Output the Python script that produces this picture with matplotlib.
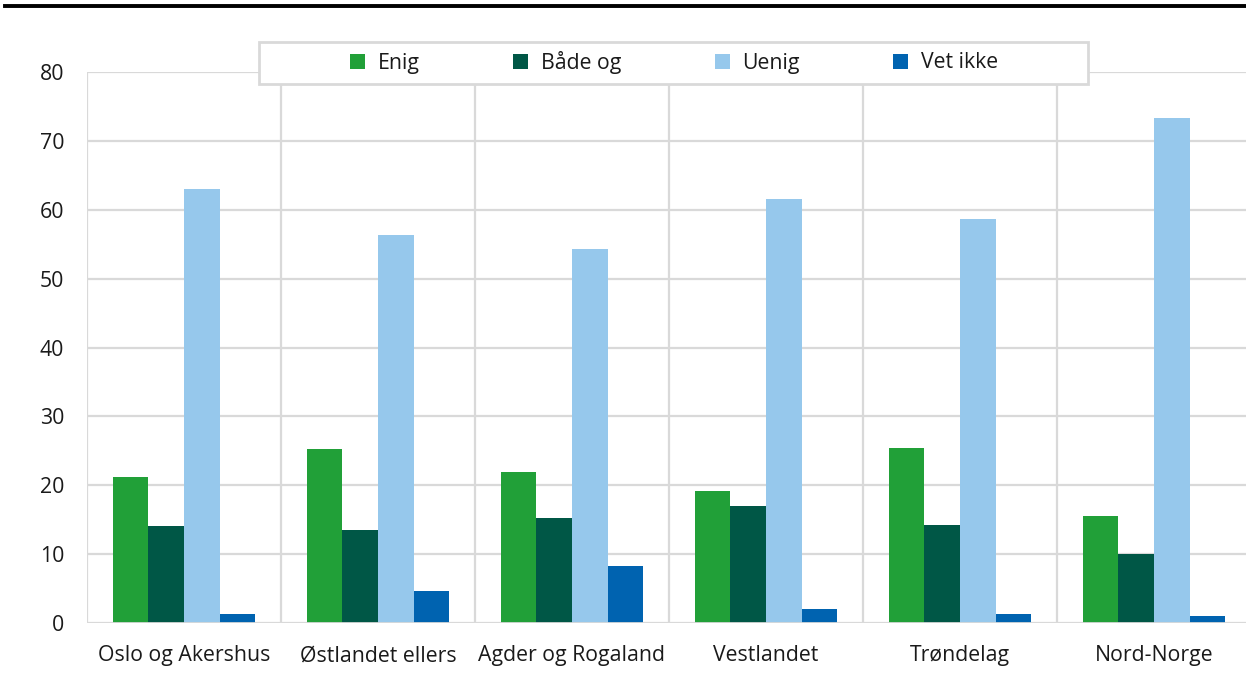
import numpy as np
import matplotlib

matplotlib.use("Agg")
import matplotlib.pyplot as plt  # noqa: E402
from matplotlib.lines import Line2D  # noqa: E402
from matplotlib.patches import Rectangle  # noqa: E402

plt.rcParams["font.family"] = ["Open Sans", "DejaVu Sans"]

regions = ["Oslo og Akershus", "Østlandet ellers", "Agder og Rogaland",
           "Vestlandet", "Trøndelag", "Nord-Norge"]
series_names = ["Enig", "Både og", "Uenig", "Vet ikke"]
enig = [21.2, 25.2, 21.9, 19.2, 25.4, 15.5]
baade_og = [14.1, 13.5, 15.2, 17.0, 14.2, 10.0]
uenig = [63.0, 56.3, 54.3, 61.6, 58.7, 73.3]
vet_ikke = [1.3, 4.6, 8.3, 2.0, 1.3, 1.0]
yticks = [0, 10, 20, 30, 40, 50, 60, 70, 80]

colors = ["#21a038", "#005746", "#96c8ec", "#0063b0"]
grid_col = "#d9d9d9"
W, H = 1246, 673

fig = plt.figure(figsize=(W / 100, H / 100), dpi=100)
ax = fig.add_axes([87 / W, 50 / H, 1164 / W, 551 / H])

x = np.arange(len(regions))
w = 0.183
for k, vals in enumerate([enig, baade_og, uenig, vet_ikke]):
    ax.bar(x + (k - 1.5) * w, vals, width=w, color=colors[k],
           label=series_names[k], zorder=3)

ax.set_ylim(0, 80)
ax.set_xlim(-0.5, len(regions) - 0.5)
ax.set_yticks(yticks)
ax.set_xticks(x)
ax.set_xticklabels(regions)
ax.tick_params(axis="both", length=0, labelsize=15.3, colors="#1a1a1a")
ax.tick_params(axis="y", pad=16.5)
ax.tick_params(axis="x", pad=16)
ax.yaxis.grid(True, color=grid_col, linewidth=1.6, zorder=0)
for b in np.arange(-0.5, len(regions) + 0.5):
    ax.axvline(b, color=grid_col, linewidth=1.6, zorder=0)
for s in ax.spines.values():
    s.set_visible(False)
ax.axhline(0, color=grid_col, linewidth=2.0, zorder=4)

# thick rule across the top
fig.add_artist(Line2D([5 / W, 1.0], [1 - 6 / H, 1 - 6 / H],
                      color="black", linewidth=2.8))

# legend box drawn by hand so it can be wider than its entries
fig.add_artist(Rectangle((259 / W, 1 - 84 / H), 829 / W, 42 / H,
                         transform=fig.transFigure, facecolor="white",
                         edgecolor=grid_col, linewidth=2.0, zorder=9))
leg = fig.legend(loc="center", bbox_to_anchor=(674 / W, 1 - 62 / H),
                 ncol=4, fontsize=15.3, frameon=False,
                 handlelength=0.7, handleheight=0.7, columnspacing=4.4,
                 handletextpad=0.6, borderpad=0.3, borderaxespad=0)
leg.set_zorder(10)
for t in leg.get_texts():
    t.set_color("#1a1a1a")

fig.savefig("out.png", dpi=100)
